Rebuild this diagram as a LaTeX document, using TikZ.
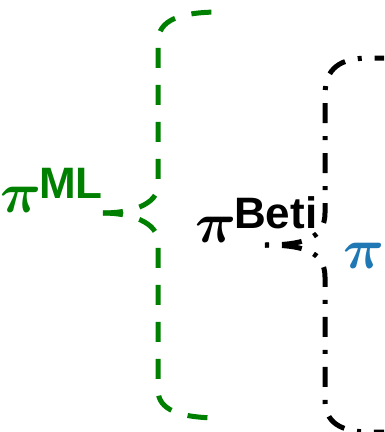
\documentclass[tikz,border=0pt]{standalone}
\usepackage{amsmath,amssymb}
\usepackage{fontspec}
\setsansfont{Liberation Sans}
\usepackage{tikz}
\usetikzlibrary{positioning}
\definecolor{mlgreen}{HTML}{008000}
\definecolor{tabblue}{HTML}{1F77B4}
\newcommand{\supfont}{\fontsize{44}{44}\selectfont\sffamily\bfseries}
\newcommand{\bigpi}{\scalebox{5.7}{$\boldsymbol{\pi}$}}
\newcommand{\policy}[1]{\bigpi\hspace{-2pt}\raisebox{14pt}{\supfont #1}}

\begin{document}
\begin{tikzpicture}[x=1pt,y=-1pt,
    pilabel/.style={inner sep=0pt,anchor=base west,font=\normalsize},
    mlbrace/.style={mlgreen,line width=5pt,dash pattern=on 20pt off 17pt},
    betibrace/.style={black,line width=5pt,dash pattern=on 4pt off 13pt on 20pt off 13pt}]
  \useasboundingbox (0,0) rectangle (384,432);
  \clip (0,0) rectangle (384,432);

  % Policy labels.
  \node[pilabel,text=mlgreen] (ml) at (0,212) {\policy{ML}};
  \node[pilabel,text=black] (beti) at (195,242) {\policy{Beti}};
  \node[pilabel,text=tabblue] (target) at (343,268) {\bigpi};

  % Green brace, both halves start at the tip.
  \coordinate (mltip) at (103,213);
  \draw[mlbrace] (mltip) .. controls (130,213) and (158,205) .. (158,185)
    -- (158,42) .. controls (158,20) and (180,12) .. (220,12);
  \draw[mlbrace] (mltip) .. controls (130,213) and (158,222) .. (158,242)
    -- (158,390) .. controls (158,410) and (180,418) .. (220,418);

  % Black dash-dot brace.
  \coordinate (betitip) at (265,245);
  \draw[betibrace] (betitip) .. controls (300,245) and (325,240) .. (325,213)
    -- (325,95) .. controls (325,68) and (340,58) .. (370,58) -- (400,58);
  \draw[betibrace] (betitip) .. controls (300,245) and (325,250) .. (325,277)
    -- (325,400) .. controls (325,422) and (340,432) .. (370,432) -- (400,432);
\end{tikzpicture}
\end{document}
